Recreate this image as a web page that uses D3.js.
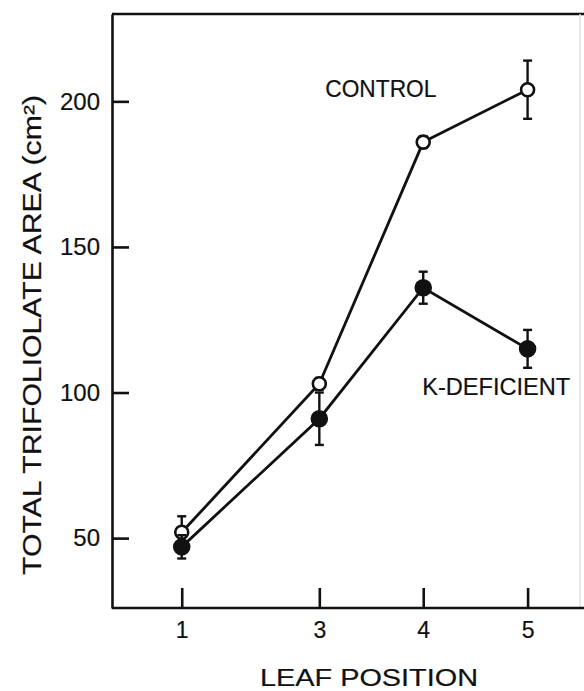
<!DOCTYPE html>
<html>
<head>
<meta charset="utf-8">
<script src="https://cdn.jsdelivr.net/npm/d3@7"></script>
<style>
  body { margin: 0; background: #fff; }
  svg text { font-family: "Liberation Sans", Arial, sans-serif; fill: #111; stroke: #111; stroke-width: 0.2px; }
</style>
</head>
<body>
<div id="chart"></div>
<script>
// leaf positions on the x axis
const leafPositions = [1, 3, 4, 5];
const yTicks = [50, 100, 150, 200];

// total trifoliolate area (cm2), mean and error bar half-width
const controlArea = [52, 103, 186, 204];
const controlErr = [5.5, 2, 2, 10];
const kDeficientArea = [47, 91, 136, 115];
const kDeficientErr = [4, 9, 5.5, 6.5];

const width = 584;
const height = 691;
const margin = { top: 14, right: 4, bottom: 83, left: 112 };

const svg = d3.select('#chart')
  .append('svg')
  .attr('width', width)
  .attr('height', height);

// x axis is not evenly spaced in the figure (1 -> 3 is shorter than 2 steps)
const xScale = d3.scaleLinear()
  .domain(leafPositions)
  .range([0.149, 0.443, 0.665, 0.888].map(f => margin.left + f * (width - margin.left - margin.right)));

const yScale = d3.scaleLinear()
  .domain([26, 230])
  .range([height - margin.bottom, margin.top]);

const x0 = margin.left;
const x1 = width - margin.right;
const y0 = height - margin.bottom;
const y1 = margin.top;

// frame
svg.append('line')
  .attr('x1', x0).attr('x2', width).attr('y1', y1).attr('y2', y1)
  .attr('stroke', '#111').attr('stroke-width', 2.6);
svg.append('line')
  .attr('x1', x1).attr('x2', x1).attr('y1', y1).attr('y2', y0)
  .attr('stroke', '#e2e2e2').attr('stroke-width', 1.5);

// axes
const yAxis = d3.axisLeft(yScale)
  .tickValues(yTicks)
  .tickSizeInner(-17)
  .tickSizeOuter(0)
  .tickPadding(12);

const yAxisG = svg.append('g')
  .attr('transform', 'translate(' + x0 + ',0)')
  .call(yAxis);

const xAxis = d3.axisBottom(xScale)
  .tickValues(leafPositions)
  .tickFormat(d3.format('d'))
  .tickSizeInner(-20)
  .tickSizeOuter(0)
  .tickPadding(14);

const xAxisG = svg.append('g')
  .attr('transform', 'translate(0,' + y0 + ')')
  .call(xAxis);

xAxisG.select('.domain').attr('d', 'M' + x0 + ',0H' + width);

[yAxisG, xAxisG].forEach(g => {
  g.select('.domain').attr('stroke', '#111').attr('stroke-width', 2.6);
  g.selectAll('.tick line').attr('stroke', '#111').attr('stroke-width', 2.6);
});
yAxisG.selectAll('.tick text').attr('font-size', 24).attr('fill', '#111');
xAxisG.selectAll('.tick text').attr('font-size', 23).attr('fill', '#111');

// axis titles
svg.append('text')
  .attr('x', 369)
  .attr('y', 686)
  .attr('text-anchor', 'middle')
  .attr('font-size', 23)
  .attr('textLength', 218)
  .attr('lengthAdjust', 'spacingAndGlyphs')
  .text('LEAF POSITION');

svg.append('text')
  .attr('transform', 'translate(41,335) rotate(-90)')
  .attr('text-anchor', 'middle')
  .attr('font-size', 26)
  .attr('textLength', 480)
  .attr('lengthAdjust', 'spacingAndGlyphs')
  .text('TOTAL TRIFOLIOLATE AREA (cm²)');

// series
const series = [
  { name: 'CONTROL', values: controlArea, errs: controlErr, fill: '#fff', r: 6.5 },
  { name: 'K-DEFICIENT', values: kDeficientArea, errs: kDeficientErr, fill: '#111', r: 7.5 }
];

const line = d3.line()
  .x((d, i) => xScale(leafPositions[i]))
  .y(d => yScale(d));

series.forEach(s => {
  svg.append('path')
    .attr('d', line(s.values))
    .attr('fill', 'none')
    .attr('stroke', '#111')
    .attr('stroke-width', 2.8);
});

series.forEach(s => {
  const g = svg.append('g');
  s.values.forEach((v, i) => {
    const cx = xScale(leafPositions[i]);
    const top = yScale(v + s.errs[i]);
    const bot = yScale(v - s.errs[i]);
    g.append('line')
      .attr('x1', cx).attr('x2', cx).attr('y1', top).attr('y2', bot)
      .attr('stroke', '#111').attr('stroke-width', 2.4);
    [top, bot].forEach(yy => {
      g.append('line')
        .attr('x1', cx - 4.5).attr('x2', cx + 4.5).attr('y1', yy).attr('y2', yy)
        .attr('stroke', '#111').attr('stroke-width', 2.4);
    });
  });
  g.selectAll('circle')
    .data(s.values)
    .join('circle')
    .attr('cx', (d, i) => xScale(leafPositions[i]))
    .attr('cy', d => yScale(d))
    .attr('r', s.r)
    .attr('fill', s.fill)
    .attr('stroke', '#111')
    .attr('stroke-width', 2.6);
});

// series labels
svg.append('text')
  .attr('x', xScale(3) + 6)
  .attr('y', yScale(201.5))
  .attr('font-size', 23)
  .attr('textLength', 111)
  .attr('lengthAdjust', 'spacingAndGlyphs')
  .text('CONTROL');

svg.append('text')
  .attr('x', xScale(4) - 1)
  .attr('y', yScale(99.2))
  .attr('font-size', 23)
  .attr('textLength', 148)
  .attr('lengthAdjust', 'spacingAndGlyphs')
  .text('K-DEFICIENT');
</script>
</body>
</html>
